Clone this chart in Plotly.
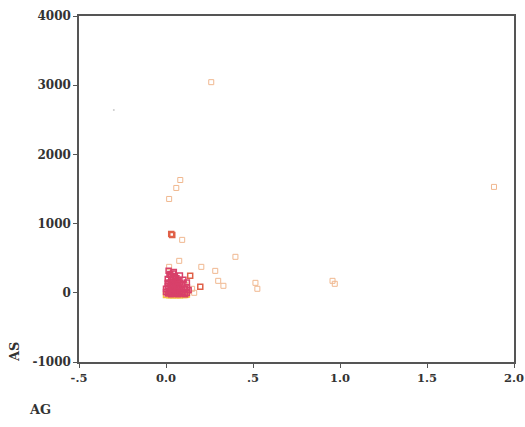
import plotly.graph_objects as go

# Outlier points (pale open squares)
out_x = [0.26, 1.885, 0.082, 0.059, 0.018, 0.093, 0.076, 0.018, 0.203, 0.283, 0.399,
         0.30, 0.33, 0.514, 0.525, 0.957, 0.97, 0.162, 0.15, 0.11, 0.13]
out_y = [3044, 1530, 1630, 1515, 1356, 765, 462, 375, 375, 317, 520,
         173, 101, 144, 58, 173, 130, 0, 58, 120, 30]

# Faint dot
dot_x = [-0.30]
dot_y = [2640]

# Darker highlighted points
dark_x = [0.036, 0.03, 0.139, 0.197]
dark_y = [837, 850, 245, 87]

# Dense cluster near origin
clu_x = [0.02, 0.04, 0.03, 0.05, 0.06, 0.01, 0.03, 0.05, 0.07, 0.08, 0.02, 0.04,
         0.06, 0.09, 0.10, 0.01, 0.03, 0.05, 0.07, 0.09, 0.11, 0.02, 0.04, 0.06,
         0.08, 0.10, 0.12, 0.00, 0.01, 0.03, 0.05, 0.07, 0.09, 0.11, 0.02, 0.04,
         0.06, 0.08, 0.13, 0.12, 0.00, 0.01, 0.03, 0.05, 0.07, 0.02, 0.04, 0.015,
         0.045, 0.08, 0.10, 0.12, 0.035, 0.055, 0.025, 0.065]
clu_y = [260, 280, 230, 240, 210, 200, 180, 170, 190, 150, 150, 130,
         120, 110, 130, 100, 90, 80, 70, 60, 50, 50, 40, 30,
         20, 10, 0, 10, -10, -20, -15, -20, -10, -20, 0, 10,
         5, -5, 40, 80, 60, 140, 120, 110, 100, 20, -5, 320,
         300, 250, 190, 150, 60, 200, 270, 160]

# Bottom edge of cluster (yellowish)
edge_x = [0.00, 0.02, 0.04, 0.06, 0.08, 0.10, 0.12, 0.03, 0.07, 0.11]
edge_y = [-30, -35, -35, -35, -35, -30, -25, -30, -30, -30]

xtick_vals = [-0.5, 0.0, 0.5, 1.0, 1.5, 2.0]
xtick_text = ["-.5", "0.0", ".5", "1.0", "1.5", "2.0"]
ytick_vals = [-1000, 0, 1000, 2000, 3000, 4000]
ytick_text = ["-1000", "0", "1000", "2000", "3000", "4000"]

fig = go.Figure()
fig.add_trace(go.Scatter(x=out_x, y=out_y, mode="markers",
                         marker=dict(symbol="square-open", size=5, color="#f0b890",
                                     line=dict(width=1))))
fig.add_trace(go.Scatter(x=dot_x, y=dot_y, mode="markers",
                         marker=dict(symbol="circle", size=2, color="#cccccc")))
fig.add_trace(go.Scatter(x=edge_x, y=edge_y, mode="markers",
                         marker=dict(symbol="square-open", size=5, color="#f2c040",
                                     line=dict(width=1.5))))
fig.add_trace(go.Scatter(x=clu_x, y=clu_y, mode="markers",
                         marker=dict(symbol="square-open", size=5, color="#d8406a",
                                     line=dict(width=1.5))))
fig.add_trace(go.Scatter(x=dark_x, y=dark_y, mode="markers",
                         marker=dict(symbol="square-open", size=5, color="#e06048",
                                     line=dict(width=1.5))))

tickfont = dict(family="DejaVu Serif", size=12, color="#333333", weight="bold")
xtickfont = dict(family="DejaVu Serif", size=11.5, color="#333333", weight="bold")
fig.update_layout(
    width=525, height=427,
    margin=dict(l=79, r=11, t=16, b=65),
    paper_bgcolor="white", plot_bgcolor="white",
    showlegend=False,
    xaxis=dict(range=[-0.5, 2.0], tickvals=xtick_vals, ticktext=xtick_text,
               showgrid=False, zeroline=False, showline=True, linecolor="#555555",
               linewidth=1.5, mirror=True, ticks="outside", ticklen=4,
               tickcolor="#555555", tickfont=xtickfont, automargin=False),
    yaxis=dict(range=[-1000, 4000], tickvals=ytick_vals, ticktext=ytick_text,
               showgrid=False, zeroline=False, showline=True, linecolor="#555555",
               linewidth=1.5, mirror=True, ticks="outside", ticklen=4,
               tickcolor="#555555", tickfont=tickfont, automargin=False),
    annotations=[
        dict(text="<b>AS</b>", xref="paper", yref="paper", x=-0.147, y=0.029,
             xanchor="center", yanchor="middle",
             textangle=-90, showarrow=False, font=dict(family="DejaVu Serif", size=13,
                                                      color="#333333")),
        dict(text="<b>AG</b>", xref="paper", yref="paper", x=-0.09, y=-0.138,
             showarrow=False, xanchor="center", yanchor="middle",
             font=dict(family="DejaVu Serif", size=13, color="#333333")),
    ],
)
fig.write_html(
    "out.html",
    config={"displayModeBar": False},
    post_script="document.body.style.margin='0';document.body.style.overflow='hidden';",
)
